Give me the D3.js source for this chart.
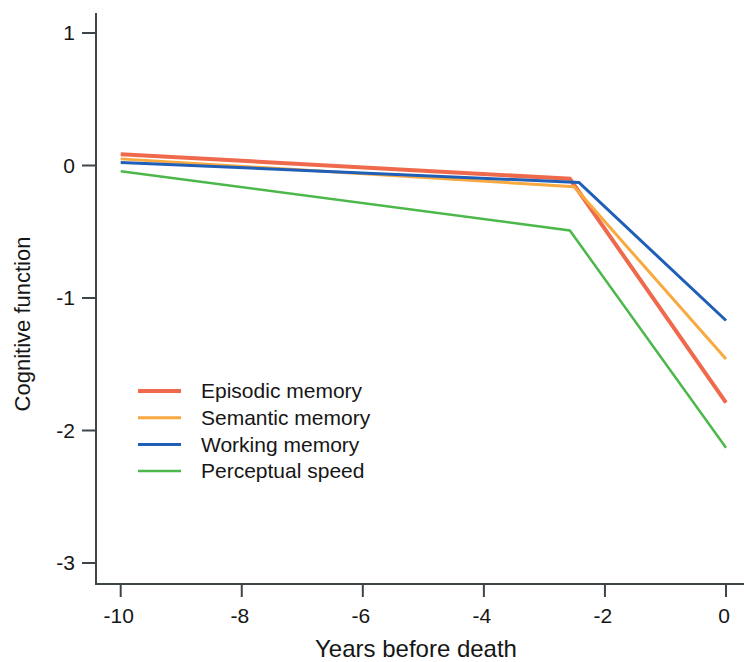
<!DOCTYPE html>
<html>
<head>
<meta charset="utf-8">
<script src="https://cdn.jsdelivr.net/npm/d3@7"></script>
<style>
  body { margin: 0; background: #fff; }
  svg text { font-family: "Liberation Sans", Arial, sans-serif; fill: #161616; }
</style>
</head>
<body>
<svg id="chart" width="744" height="662"></svg>
<script>
// values: [years before death, cognitive function]
var names = ["Episodic memory", "Semantic memory", "Working memory", "Perceptual speed"];
var colors = ["#ef6a4c", "#f8a940", "#1f5fb8", "#4cb84a"];
var widths = [4, 3, 3, 2.5];
var episodic   = [[-10, 0.085], [-2.58, -0.10], [0, -1.79]];
var semantic   = [[-10, 0.05],  [-2.51, -0.16], [0, -1.46]];
var working    = [[-10, 0.023], [-2.43, -0.128], [0, -1.17]];
var perceptual = [[-10, -0.043], [-2.58, -0.49], [0, -2.13]];
var xTicks = [-10, -8, -6, -4, -2, 0];
var yTicks = [1, 0, -1, -2, -3];

var all = [episodic, semantic, working, perceptual];

var svg = d3.select("#chart");

var x = d3.scaleLinear().domain([-10, 0]).range([120.7, 726]);
var y = d3.scaleLinear().domain([1, -3]).range([33, 563]);

var axisColor = "#3d4548";

// y axis
var yAxis = svg.append("g").attr("transform", "translate(96,0)");
yAxis.append("line")
  .attr("x1", 0).attr("x2", 0).attr("y1", 13).attr("y2", 584)
  .attr("stroke", axisColor).attr("stroke-width", 2);
yAxis.selectAll(".tick").data(yTicks).enter().append("line")
  .attr("x1", -14).attr("x2", 0)
  .attr("y1", function(d){ return y(d); }).attr("y2", function(d){ return y(d); })
  .attr("stroke", axisColor).attr("stroke-width", 2);
yAxis.selectAll(".lab").data(yTicks).enter().append("text")
  .attr("x", -21).attr("y", function(d){ return y(d); })
  .attr("dy", "0.35em")
  .attr("text-anchor", "end")
  .style("font-size", "21px")
  .text(function(d){ return d; });

// x axis
var xAxis = svg.append("g").attr("transform", "translate(0,584)");
xAxis.append("line")
  .attr("x1", 95).attr("x2", 744).attr("y1", 0).attr("y2", 0)
  .attr("stroke", axisColor).attr("stroke-width", 2);
xAxis.selectAll(".tick").data(xTicks).enter().append("line")
  .attr("x1", function(d){ return x(d); }).attr("x2", function(d){ return x(d); })
  .attr("y1", 0).attr("y2", 13)
  .attr("stroke", axisColor).attr("stroke-width", 2);
xAxis.selectAll(".lab").data(xTicks).enter().append("text")
  .attr("x", function(d){ return x(d) - 2; }).attr("y", 39)
  .attr("text-anchor", "middle")
  .style("font-size", "21px")
  .text(function(d){ return d; });

// axis titles
svg.append("text")
  .attr("x", 416).attr("y", 657)
  .attr("text-anchor", "middle")
  .style("font-size", "24px")
  .text("Years before death");

svg.append("text")
  .attr("transform", "translate(30,324) rotate(-90)")
  .attr("text-anchor", "middle")
  .style("font-size", "22px")
  .text("Cognitive function");

// lines
var line = d3.line()
  .x(function(d){ return x(d[0]); })
  .y(function(d){ return y(d[1]); });

var drawOrder = [3, 0, 1, 2];
drawOrder.forEach(function(i){
  svg.append("path")
    .datum(all[i])
    .attr("d", line)
    .attr("fill", "none")
    .attr("stroke", colors[i])
    .attr("stroke-width", widths[i])
    .attr("stroke-linejoin", "miter");
});

// legend
var legend = svg.append("g").attr("transform", "translate(138,391)");
var rows = legend.selectAll(".row").data(names).enter().append("g")
  .attr("transform", function(d, i){ return "translate(0," + (i * 26.7) + ")"; });
rows.append("line")
  .attr("x1", 0).attr("x2", 43).attr("y1", 0).attr("y2", 0)
  .attr("stroke", function(d, i){ return colors[i]; })
  .attr("stroke-width", function(d, i){ return widths[i]; });
rows.append("text")
  .attr("x", 63).attr("y", 0).attr("dy", "0.35em")
  .style("font-size", "21px")
  .text(function(d){ return d; });
</script>
</body>
</html>
